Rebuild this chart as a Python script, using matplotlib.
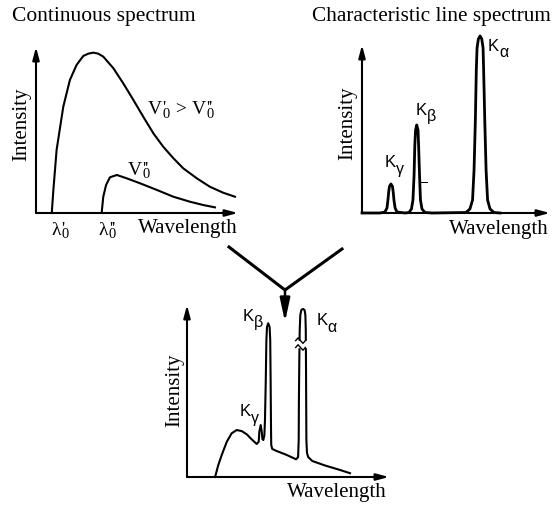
import matplotlib
matplotlib.use('Agg')
import matplotlib.pyplot as plt

plt.rcParams['font.family'] = 'Liberation Serif'

# --- continuous spectrum (wavelength, intensity), arbitrary units 0..10
cont_hi_x = [0.78, 0.86, 1.02, 1.35, 1.68, 2.01, 2.34, 2.59, 2.84, 3.08, 3.33, 3.83, 4.32,
             4.82, 5.31, 5.81, 6.30, 6.80, 7.29, 7.96, 8.61, 9.27, 9.85]
cont_hi_y = [0.00, 1.39, 3.80, 6.40, 8.02, 8.92, 9.46, 9.60, 9.66, 9.60, 9.42, 8.72, 7.81,
             6.81, 5.80, 4.80, 3.99, 3.30, 2.69, 2.09, 1.58, 1.22, 0.98]
cont_lo_x = [3.25, 3.33, 3.47, 3.66, 4.00, 4.49, 5.15, 5.98, 6.80, 7.62, 8.28, 8.86]
cont_lo_y = [0.00, 0.98, 1.69, 2.15, 2.29, 2.09, 1.79, 1.39, 0.98, 0.68, 0.48, 0.34]

# --- characteristic line spectrum
line_x = [0.00, 0.96, 1.22, 1.33, 1.38, 1.42, 1.46, 1.54, 1.62, 1.66, 1.70, 1.76, 1.86, 2.29,
          2.50, 2.63, 2.71, 2.77, 2.81, 2.85, 2.91, 2.98, 3.01, 3.06, 3.11, 3.19, 3.35, 3.72,
          5.53, 5.74, 5.88, 5.96, 6.03, 6.08, 6.12, 6.19, 6.28, 6.37, 6.44, 6.47, 6.53, 6.60,
          6.68, 6.81, 7.02, 7.34]
line_y = [0.00, 0.00, 0.06, 0.30, 0.77, 1.25, 1.58, 1.73, 1.58, 1.25, 0.77, 0.30, 0.06, 0.00,
          0.03, 0.24, 0.77, 2.26, 4.05, 4.94, 5.24, 4.94, 4.05, 2.26, 0.77, 0.24, 0.03, 0.00,
          0.03, 0.24, 0.77, 2.56, 5.54, 8.51, 9.82, 10.36, 10.54, 10.36, 9.82, 8.51, 5.54, 2.56,
          0.77, 0.24, 0.03, 0.00]
tick_mark_x = [3.12, 3.44]
tick_mark_y = [1.83, 1.83]

# --- combined spectrum
comb_x = [1.39, 1.55, 1.72, 1.97, 2.21, 2.46, 2.71, 2.96, 3.20, 3.45, 3.55, 3.58, 3.65, 3.70,
          3.73, 3.78, 3.83, 3.86, 3.90, 3.93, 3.96, 4.02, 4.09, 4.12, 4.14, 4.16, 4.17, 4.22,
          4.44, 4.94, 5.40, 5.50, 5.53, 5.54, 5.56, 5.58, 5.61, 5.66, 5.74, 5.82, 5.86, 5.88,
          5.89, 5.90, 5.91, 5.94, 6.00, 6.20, 6.83, 7.57, 8.07]
comb_y = [0.00, 0.70, 1.28, 2.05, 2.54, 2.73, 2.67, 2.48, 2.19, 1.92, 2.05, 2.63, 3.02, 2.63,
          2.21, 2.15, 2.44, 3.31, 5.64, 7.97, 8.72, 8.94, 8.72, 7.97, 5.64, 2.73, 1.86, 1.63,
          1.51, 1.28, 1.03, 1.16, 2.15, 4.48, 6.80, 8.55, 9.42, 9.71, 9.77, 9.71, 9.42, 8.55,
          6.80, 4.48, 2.15, 1.40, 1.16, 0.93, 0.67, 0.41, 0.22]
break_y = 7.73
break_x = [5.38, 5.50, 5.62, 5.74, 5.86]
break_wave = [0.0, 0.16, 0.0, -0.16, 0.0]

W, H = 560, 505
LABEL = 15
fig = plt.figure(figsize=(W / 100, H / 100), dpi=100)


def panel(left, top, right, bottom):
    ax = fig.add_axes([left / W, 1 - bottom / H, (right - left) / W, (bottom - top) / H])
    ax.set_xlim(0, 10)
    ax.set_ylim(0, 10)
    ax.axis('off')
    arrow = dict(arrowstyle='-|>,head_length=0.75,head_width=0.2', color='k', lw=1.5,
                 shrinkA=0, shrinkB=0)
    ax.annotate('', xy=(0, 1), xytext=(0, 0), xycoords='axes fraction', arrowprops=arrow)
    ax.annotate('', xy=(1, 0), xytext=(0, 0), xycoords='axes fraction', arrowprops=arrow)
    return ax


def klabel(ax, x, y, greek):
    t = ax.text(x, y, 'K', family='Liberation Sans', fontsize=12, ha='left', va='center')
    ax.annotate(greek, xy=(1.0, 0.05), xycoords=t, family='Liberation Sans', fontsize=11.5,
                ha='left', va='center')


def primed(ax, anchor, base, prime, size=14):
    # base letter, prime mark above and subscript 0 below; returns (base, subscript)
    if isinstance(anchor[0], (int, float)):
        t = ax.text(anchor[0], anchor[1], base, fontsize=size, ha='left', va='baseline')
    else:
        t = ax.annotate(base, xy=(1, 0), xycoords=anchor, fontsize=size, ha='left',
                        va='bottom')
    # the bbox bottom sits about 0.22 em below the base line
    d = 0.22 * size
    ax.annotate(prime, xy=(1, 0), xycoords=t, xytext=(0.5, d + 1.2), textcoords='offset points',
                fontsize=size * 0.9, ha='left', va='baseline')
    s = ax.annotate('0', xy=(1, 0), xycoords=t, xytext=(0.3, d - 2.6), textcoords='offset points',
                    fontsize=size * 0.75, ha='left', va='baseline')
    return t, s


# continuous spectrum
ax1 = panel(36, 47, 238, 213)
ax1.plot(cont_hi_x, cont_hi_y, color='k', lw=1.5, clip_on=False)
ax1.plot(cont_lo_x, cont_lo_y, color='k', lw=1.5, clip_on=False)
ax1.text(-0.72, 5.33, 'Intensity', rotation=90, fontsize=LABEL, ha='center', va='center')
ax1.text(5.05, -0.96, 'Wavelength', fontsize=LABEL, ha='left', va='center')
primed(ax1, (0.75, -1.3), 'λ', "'")
primed(ax1, (3.1, -1.3), 'λ', "''")
v1, s1 = primed(ax1, (5.54, 5.95), 'V', "'")
gt = ax1.annotate(' > ', xy=(1, 0), xycoords=(s1, v1), xytext=(1, 0), textcoords='offset points',
                  fontsize=14, ha='left', va='bottom')
primed(ax1, (gt, v1), 'V', "''")
primed(ax1, (4.55, 2.3), 'V', "''")
fig.text(12 / W, 1 - 16 / H, 'Continuous spectrum', fontsize=15.5, ha='left', va='center')

# characteristic line spectrum
ax2 = panel(362, 45, 550, 213)
ax2.plot(line_x, line_y, color='k', lw=2.0, clip_on=False)
ax2.plot(tick_mark_x, tick_mark_y, color='k', lw=0.7)
ax2.text(-0.74, 5.33, 'Intensity', rotation=90, fontsize=LABEL, ha='center', va='center')
ax2.text(4.65, -1.0, 'Wavelength', fontsize=LABEL, ha='left', va='center')
klabel(ax2, 1.22, 3.0, 'γ')
klabel(ax2, 2.87, 6.13, 'β')
klabel(ax2, 6.70, 9.94, 'α')
fig.text(312 / W, 1 - 17 / H, 'Characteristic line spectrum', fontsize=15.3, ha='left',
         va='center')

# combined spectrum
ax3 = panel(187, 305, 389, 477)
ax3.plot(comb_x, comb_y, color='k', lw=1.5, clip_on=False)
ax3.fill_between([5.45, 5.95], break_y - 0.16, break_y + 0.16, color='white', zorder=3)
ax3.plot(break_x, [break_y + 0.2 + w for w in break_wave], color='k', lw=1.0, zorder=4)
ax3.plot(break_x, [break_y - 0.2 + w for w in break_wave], color='k', lw=1.0, zorder=4)
ax3.text(-0.62, 5.06, 'Intensity', rotation=90, fontsize=LABEL, ha='center', va='center')
ax3.text(4.97, -0.93, 'Wavelength', fontsize=LABEL, ha='left', va='center')
klabel(ax3, 2.59, 3.80, 'γ')
klabel(ax3, 2.76, 9.36, 'β')
klabel(ax3, 6.42, 9.07, 'α')

# joining arrow
ov = fig.add_axes([0, 0, 1, 1], zorder=-1)
ov.set_xlim(0, W)
ov.set_ylim(H, 0)
ov.axis('off')
ov.plot([229, 285, 342], [247, 290, 249], color='k', lw=2.2, solid_joinstyle='miter')
ov.annotate('', xy=(285, 322), xytext=(285, 289),
            arrowprops=dict(arrowstyle='-|>,head_length=1.4,head_width=0.3', color='k',
                            lw=1.8, shrinkA=0, shrinkB=0))

fig.savefig('out.png', dpi=100)
